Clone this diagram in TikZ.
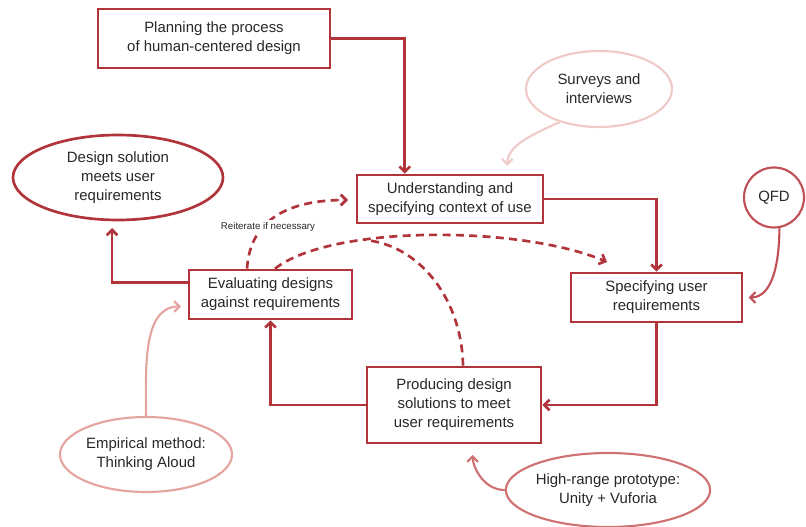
\documentclass[tikz,border=0pt]{standalone}
\usepackage{fontspec}
\setmainfont{Liberation Sans}
\usetikzlibrary{arrows.meta,shapes.geometric}
\definecolor{boxred}{RGB}{176,52,58}
\definecolor{pinkA}{RGB}{240,202,198}
\definecolor{pinkB}{RGB}{228,164,160}
\definecolor{pinkC}{RGB}{208,114,114}
\definecolor{qfdred}{RGB}{192,80,86}
\definecolor{txt}{RGB}{40,40,40}
\begin{document}
\begin{tikzpicture}[x=0.75pt,y=-0.75pt,
every node/.style={font=\fontsize{11.2}{14.3}\selectfont, text=txt, align=center, inner sep=0pt},
stepbox/.style={draw=boxred, line width=2pt, fill=white, rectangle},
roundbox/.style={draw=#1, line width=1.6pt, fill=white, ellipse},
flow/.style={draw=boxred, line width=2pt, -{Straight Barb[length=4pt,width=8pt]}},
dashflow/.style={draw=boxred, line width=2pt, dash pattern=on 6pt off 4pt},
hint/.style={draw=#1, line width=1.6pt, -{Straight Barb[length=4pt,width=8pt]}}]
\useasboundingbox (0,0) rectangle (806,527);
\node[stepbox, minimum width=174pt, minimum height=44.25pt] (plan) at (214,38.5) {Planning the process\\of human-centered design};
\node[stepbox, minimum width=139.5pt, minimum height=36pt] (und) at (450,199) {Understanding and\\specifying context of use};
\node[stepbox, minimum width=128.25pt, minimum height=36.75pt] (spec) at (656.5,297.5) {Specifying user\\requirements};
\node[stepbox, minimum width=130.5pt, minimum height=57pt] (prod) at (454,405) {Producing design\\solutions to meet\\user requirements};
\node[stepbox, minimum width=122.25pt, minimum height=36.75pt] (eval) at (270.5,294.5) {Evaluating designs\\against requirements};
\node[roundbox=boxred, line width=2pt, minimum width=157.5pt, minimum height=63.75pt] (sol) at (118,177.5) {Design solution\\meets user\\requirements};
\node[roundbox=pinkA, minimum width=109.5pt, minimum height=57pt] (surv) at (599,89) {Surveys and\\interviews};
\node[roundbox=qfdred, circle, minimum size=45pt] (qfd) at (774,197.5) {QFD};
\node[roundbox=pinkB, minimum width=129pt, minimum height=56.25pt] (emp) at (146,454.5) {Empirical method:\\Thinking Aloud};
\node[roundbox=pinkC, minimum width=129pt, minimum height=55.5pt] (proto) at (608,490) {High-range prototype:\\Unity + Vuforia};
\coordinate (undin) at (348,200);
\coordinate (specin) at (607,262);
\coordinate (merge) at (365,240);
\draw[flow] (plan.east) -| ([xshift=-34pt]und.north);
\draw[flow] (und.east) -| (spec.north);
\draw[flow] (spec.south) |- (prod.east);
\draw[flow] (prod.west) -| (eval.south);
\draw[flow, shorten >=5pt] ([yshift=9pt]eval.west) -| ([xshift=-4.5pt]sol.south);
\draw[hint=pinkA, shorten >=6pt] (surv.220) to[out=205, in=90] ([xshift=43pt]und.north);
\draw[hint=qfdred, shorten >=4pt] (qfd.-80) to[out=-90, in=0] (spec.east);
\draw[hint=pinkB, shorten >=5pt] (emp.north) to[out=90, in=180] ([yshift=-9pt]eval.west);
\draw[hint=pinkC, shorten >=8pt] (proto.west) to[out=180, in=-90] ([xshift=14pt]prod.south);
\draw[dashflow, -{Straight Barb[length=4pt,width=8pt]}] ([xshift=-17.6pt]eval.north) .. controls +(3,-50) and +(-58,0) .. (undin);
\draw[dashflow, -{Straight Barb[length=4pt,width=8pt]}] ([xshift=3.4pt]eval.north) .. controls (330,225) and (520,225) .. (specin);
\draw[dashflow] ([xshift=6.75pt]prod.north) .. controls (462,300) and (420,245) .. (merge);
\node[font=\fontsize{7.3}{9}\selectfont, fill=white, inner sep=1.5pt] (reit) at (268,227) {Reiterate if necessary};
\end{tikzpicture}
\end{document}
